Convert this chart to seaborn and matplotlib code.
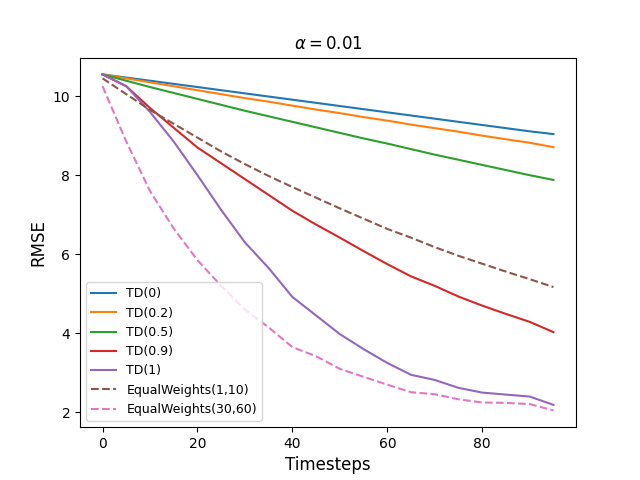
import matplotlib
matplotlib.use('Agg')
import matplotlib.pyplot as plt
import seaborn as sns
import numpy as np

# timesteps
steps = list(range(0, 100, 5))

td_0 = [10.55, 10.47, 10.39, 10.31, 10.23, 10.15, 10.07, 9.99, 9.91, 9.83,
        9.75, 9.67, 9.59, 9.51, 9.43, 9.35, 9.27, 9.19, 9.11, 9.04]
td_02 = [10.55, 10.45, 10.35, 10.25, 10.15, 10.05, 9.95, 9.86, 9.76, 9.66,
         9.57, 9.47, 9.38, 9.28, 9.19, 9.10, 9.00, 8.91, 8.82, 8.71]
td_05 = [10.55, 10.39, 10.23, 10.08, 9.93, 9.78, 9.63, 9.49, 9.35, 9.21,
         9.07, 8.93, 8.80, 8.66, 8.52, 8.39, 8.26, 8.13, 8.00, 7.88]
td_09 = [10.55, 10.25, 9.70, 9.20, 8.70, 8.30, 7.90, 7.50, 7.10, 6.75,
         6.42, 6.08, 5.75, 5.44, 5.20, 4.93, 4.70, 4.49, 4.29, 4.03]
td_1 = [10.55, 10.25, 9.60, 8.85, 8.00, 7.12, 6.30, 5.65, 4.92, 4.45,
        3.98, 3.60, 3.25, 2.95, 2.82, 2.62, 2.50, 2.45, 2.40, 2.19]
ew_1_10 = [10.45, 10.05, 9.65, 9.30, 8.95, 8.60, 8.28, 7.98, 7.70, 7.43,
           7.16, 6.90, 6.64, 6.42, 6.18, 5.96, 5.76, 5.56, 5.37, 5.17]
ew_30_60 = [10.25, 8.85, 7.60, 6.65, 5.85, 5.20, 4.60, 4.15, 3.65, 3.42,
            3.10, 2.90, 2.70, 2.51, 2.46, 2.33, 2.25, 2.24, 2.21, 2.05]

labels = ['TD(0)', 'TD(0.2)', 'TD(0.5)', 'TD(0.9)', 'TD(1)',
          'EqualWeights(1,10)', 'EqualWeights(30,60)']
series = [td_0, td_02, td_05, td_09, td_1, ew_1_10, ew_30_60]
colors = ['#1f77b4', '#ff7f0e', '#2ca02c', '#d62728', '#9467bd', '#8c564b', '#e377c2']

fig, ax = plt.subplots(figsize=(6.4, 4.8), dpi=100)

for lab, vals, col in zip(labels, series, colors):
    ls = '--' if lab.startswith('Equal') else '-'
    sns.lineplot(x=steps, y=vals, ax=ax, label=lab, color=col, linestyle=ls, linewidth=1.5)

ax.set_title(r'$\alpha = 0.01$', fontsize=12)
ax.set_xlabel('Timesteps', fontsize=12)
ax.set_ylabel('RMSE', fontsize=12)
ax.set_xticks([0, 20, 40, 60, 80])
ax.set_yticks([2, 4, 6, 8, 10])
ax.legend(loc='lower left', fontsize=9)

plt.savefig('out.png', dpi=100)
plt.close()
